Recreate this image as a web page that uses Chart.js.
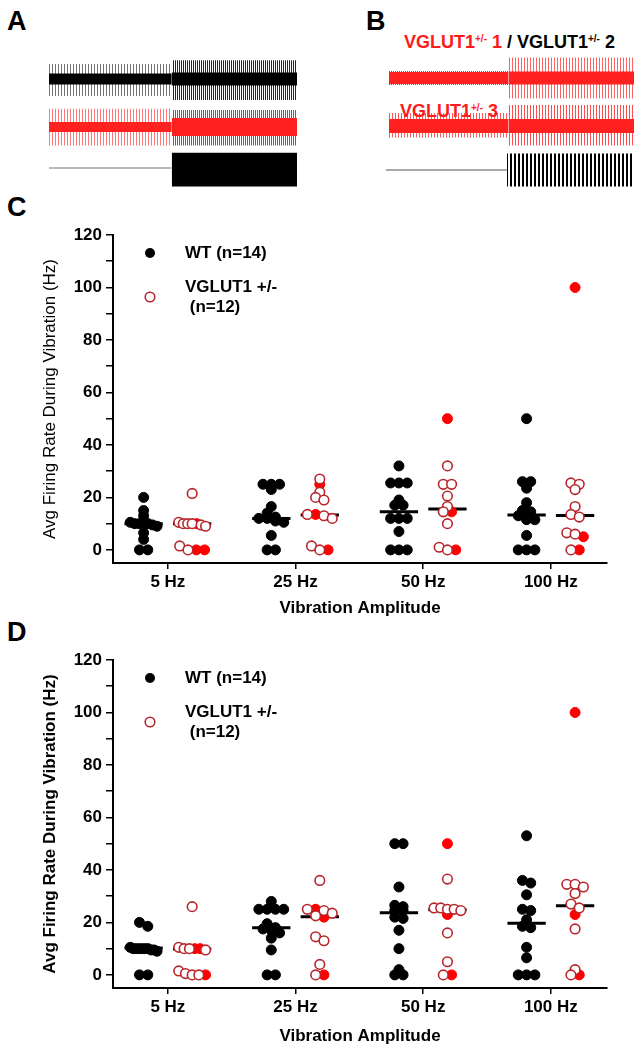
<!DOCTYPE html>
<html lang="en">
<head>
<meta charset="UTF-8">
<title>VGLUT1 firing during vibration</title>
<script src="https://cdn.jsdelivr.net/npm/chart.js"></script>
<style>
  body { margin: 0; width: 640px; height: 1050px; position: relative; overflow: hidden; background: #fff;
         font-family: "Liberation Sans", Arial, sans-serif; }
  canvas { position: absolute; }
  .panel { position: absolute; font-weight: bold; font-size: 27px; line-height: 1; }
  .tag { position: absolute; font-weight: bold; font-size: 18px; line-height: 1; white-space: nowrap; color: #000; }
  .tag sup { font-size: 10px; vertical-align: 6px; line-height: 0; }
  .red { color: #ff1a1a; }
</style>
</head>
<body>
<div class="panel" style="left:7px;top:8px">A</div>
<div class="panel" style="left:366px;top:8px">B</div>
<div class="panel" style="left:7px;top:194px">C</div>
<div class="panel" style="left:7px;top:619px">D</div>

<div class="tag" style="left:404px;top:33px"><span class="red">VGLUT1<sup>+/-</sup> 1</span> / VGLUT1<sup>+/-</sup> 2</div>
<div class="tag red" style="left:400px;top:102px">VGLUT1<sup>+/-</sup> 3</div>

<canvas id="aWt" width="248" height="48" style="left:49px;top:55px"></canvas>
<canvas id="aVg" width="248" height="48" style="left:49px;top:103px"></canvas>
<canvas id="aStim" width="248" height="48" style="left:49px;top:144px"></canvas>
<canvas id="bVg1" width="245" height="48" style="left:389px;top:54px"></canvas>
<canvas id="bVg3" width="245" height="48" style="left:389px;top:102px"></canvas>
<canvas id="bStim" width="248" height="48" style="left:386px;top:146px"></canvas>

<canvas id="chartC" width="640" height="435" style="left:0;top:185px"></canvas>
<canvas id="chartD" width="640" height="440" style="left:0;top:610px"></canvas>

<script>
// ---- example recordings (A, B): envelope of each trace, [before vibration, during vibration]
const traceTime = [0, 2];          // s
const aOnset = 0.99, bOnset = 0.975; // vibration starts (s)
const aWtSpikeUp = [15, 18.7],  aWtSpikeDown = [-17, -21],   aWtCore = [5.5, 6.5];
const aVgSpikeUp = [18.3, 17],  aVgSpikeDown = [-18.6, -18.6], aVgCore = [5, 9];
const aStimUp = [0.6, 15.2],    aStimDown = [-0.6, -18.5];
const bVg1SpikeUp = [7, 20.6],  bVg1SpikeDown = [-7, -20.5], bVg1Core = [6, 6.5];
const bVg3SpikeUp = [13, 21],   bVg3SpikeDown = [-11.5, -19.6], bVg3Core = [7, 7];
const bStimUp = [0.6, 16.5],    bStimDown = [-0.6, -16.4];

// ---- group data (C, D)
const categories = ['5 Hz', '25 Hz', '50 Hz', '100 Hz'];
const yTicks = [0, 10, 20, 30, 40, 50, 60, 70, 80, 90, 100, 110, 120];
const legendLabels = ['WT (n=14)', 'VGLUT1 +/-', ' (n=12)'];

const cWT = [
  [20, 15, 13, 10.5, 10, 10, 10, 10, 9.5, 9, 6.5, 4, 0, 0],
  [25, 25, 25, 23, 16.5, 14, 12.5, 12, 12, 11, 10.5, 5.5, 0, 0],
  [32, 25.5, 25.5, 25.5, 19, 17, 17, 12, 12, 12, 7, 0, 0, 0],
  [50, 26, 26, 23.5, 18, 15, 14.5, 13, 11.5, 11.5, 5.5, 0, 0, 0]
];
const cVgOpen = [
  [21.5, 10.5, 10, 10, 10, 9.5, 9, 1.5, 0],
  [27, 22, 20, 19, 13.5, 13, 12, 1.5, 0],
  [32, 25, 25, 20.5, 16.5, 14.5, 10, 1, 0],
  [25.5, 25, 23, 16.5, 13.5, 12.5, 6.5, 6, 0]
];
const cVgFilled = [[10, 0, 0], [25, 13.5, 0], [50, 14.5, 0], [100, 5, 0]];
const cMedWT = [10, 12, 14.5, 13.3];
const cMedVg = [10, 13.3, 15.6, 13.1];

const dWT = [
  [20, 18.5, 10.5, 10, 10, 10, 10, 10, 10, 9.5, 9.5, 9, 0, 0],
  [28, 25, 25, 25, 25, 19.5, 18, 17.5, 17, 16, 14, 9.5, 0, 0],
  [50, 50, 33.5, 26.5, 26, 24.5, 24.5, 22, 21.5, 17, 10, 2, 0, 0],
  [53, 36, 35, 30.5, 25, 24.5, 21, 18.5, 18, 10.5, 6.5, 0, 0, 0]
];
const dVgOpen = [
  [26, 10.5, 10, 10, 9.5, 1.5, 0.5, 0, 0],
  [36, 25, 24.5, 23.5, 22.5, 14.5, 13, 4, 0],
  [36.5, 25.5, 25.5, 25, 25, 24.5, 16, 5, 0],
  [34.5, 34.5, 33.5, 31, 27, 25.5, 17.5, 2, 0]
];
const dVgFilled = [[10, 10, 0], [25, 22, 0], [50, 23, 0], [100, 23, 0]];
const dMedWT = [10.2, 18, 23.7, 19.7];
const dMedVg = [9.9, 22.2, 24.8, 26.3];

const FONT = '"Liberation Sans", Arial, sans-serif';
const RED_LINE = '#ff2020';
const OPEN_RED = '#b8262c';
const FILL_RED = '#ff0000';

// vertical stripes used to suggest the spikes in the raw recordings
function stripes(color, period, width) {
  const c = document.createElement('canvas');
  c.width = period; c.height = 1;
  const g = c.getContext('2d');
  g.fillStyle = color;
  g.fillRect(0, 0, width, 1);
  return g.createPattern(c, 'repeat');
}

function band(t0, t1, lo, hi, fill) {
  const line = { borderColor: 'transparent', pointRadius: 0, borderWidth: 0 };
  return [
    Object.assign({ data: [{ x: t0, y: lo }, { x: t1, y: lo }], fill: false }, line),
    Object.assign({ data: [{ x: t0, y: hi }, { x: t1, y: hi }], fill: '-1', backgroundColor: fill }, line)
  ];
}

function traceChart(id, onset, up, down, core, fills) {
  const t = [traceTime[0], onset, traceTime[1]];
  let datasets = [];
  for (let s = 0; s < 2; s++) {
    datasets = datasets.concat(band(t[s], t[s + 1], down[s], up[s], fills.spike[s]));
    if (core) datasets = datasets.concat(band(t[s], t[s + 1], -core[s], core[s], fills.core));
  }
  new Chart(document.getElementById(id), {
    type: 'line',
    data: { datasets },
    options: {
      responsive: false, animation: false, events: [],
      layout: { padding: 0 },
      plugins: { legend: { display: false }, tooltip: { enabled: false } },
      scales: {
        x: { type: 'linear', display: false, min: traceTime[0], max: traceTime[1] },
        y: { display: false, min: -24, max: 24 }
      }
    }
  });
}

traceChart('aWt', aOnset, aWtSpikeUp, aWtSpikeDown, aWtCore,
  { spike: [stripes('rgba(0,0,0,0.55)', 3, 1), stripes('rgba(0,0,0,0.85)', 2, 1)], core: '#000' });
traceChart('aVg', aOnset, aVgSpikeUp, aVgSpikeDown, aVgCore,
  { spike: [stripes('rgba(255,32,32,0.6)', 3, 1), stripes(RED_LINE, 2, 1)], core: RED_LINE });
traceChart('aStim', aOnset, aStimUp, aStimDown, null,
  { spike: ['#777', '#000'] });
traceChart('bVg1', bOnset, bVg1SpikeUp, bVg1SpikeDown, bVg1Core,
  { spike: [stripes(RED_LINE, 2, 1), stripes('rgba(255,32,32,0.7)', 3, 1)], core: RED_LINE });
traceChart('bVg3', bOnset, bVg3SpikeUp, bVg3SpikeDown, bVg3Core,
  { spike: [stripes('rgba(255,32,32,0.75)', 3, 1), stripes('rgba(255,32,32,0.8)', 3, 1)], core: RED_LINE });
traceChart('bStim', bOnset, bStimUp, bStimDown, null,
  { spike: ['#555', stripes('#000', 4, 2)] });

// ---- scatter panels
const GROUP_OFFSET = 0.19;  // WT left of the tick, VGLUT1 right of it
const MED_HALF = 0.15;
const ROW_TOL = 1.6;        // values closer than this share a row
const DOT_STEP = 0.065;
const ROW_MAX = 0.21;

// spread points that share a value sideways, each row centred on the group
function swarm(values, center) {
  const order = values.map((v, i) => i).sort((a, b) => values[b] - values[a] || a - b);
  const xs = new Array(values.length);
  let row = [];
  const flush = () => {
    const n = row.length;
    const step = n > 1 ? Math.min(DOT_STEP, ROW_MAX / (n - 1)) : 0;
    row.forEach((k, j) => { xs[k] = center + (j - (n - 1) / 2) * step; });
    row = [];
  };
  order.forEach(k => {
    if (row.length && values[row[0]] - values[k] > ROW_TOL) flush();
    row.push(k);
  });
  flush();
  return xs;
}

const wtStyle = { pointRadius: 5, pointBackgroundColor: '#000', pointBorderColor: '#000', pointBorderWidth: 1 };
const openStyle = { pointRadius: 4.8, pointBackgroundColor: '#fff', pointBorderColor: OPEN_RED, pointBorderWidth: 1.6 };
const filledStyle = { pointRadius: 5, pointBackgroundColor: FILL_RED, pointBorderColor: FILL_RED, pointBorderWidth: 1 };

const legendPlugin = {
  id: 'groupLegend',
  afterDraw(chart) {
    const { ctx, chartArea: a } = chart;
    const mx = a.left + 37, tx = a.left + 72;
    ctx.save();
    ctx.font = 'bold 17px ' + FONT;
    ctx.textBaseline = 'middle';
    ctx.fillStyle = '#000';
    ctx.beginPath(); ctx.arc(mx, a.top + 18, wtStyle.pointRadius, 0, 2 * Math.PI); ctx.fill();
    ctx.fillText(legendLabels[0], tx, a.top + 18);
    ctx.fillText(legendLabels[1], tx, a.top + 52);
    ctx.fillText(legendLabels[2], tx, a.top + 72);
    ctx.beginPath(); ctx.arc(mx, a.top + 62, openStyle.pointRadius, 0, 2 * Math.PI);
    ctx.fillStyle = '#fff'; ctx.fill();
    ctx.lineWidth = openStyle.pointBorderWidth; ctx.strokeStyle = OPEN_RED; ctx.stroke();
    ctx.restore();
  }
};

function groupChart(id, wt, vgOpen, vgFilled, medWT, medVg, boldTitle, xAxisHeight, titlePad) {
  const wtPts = [], openPts = [], fillPts = [], medPts = [];
  categories.forEach((c, i) => {
    const xWT = i + 1 - GROUP_OFFSET, xVg = i + 1 + GROUP_OFFSET;
    swarm(wt[i], xWT).forEach((x, k) => wtPts.push({ x, y: wt[i][k] }));
    const vg = vgOpen[i].concat(vgFilled[i]);
    swarm(vg, xVg).forEach((x, k) => (k < vgOpen[i].length ? openPts : fillPts).push({ x, y: vg[k] }));
    [[xWT, medWT[i]], [xVg, medVg[i]]].forEach(([x, m]) => {
      medPts.push({ x: x - MED_HALF, y: m }, { x: x + MED_HALF, y: m }, { x: x + MED_HALF, y: null });
    });
  });

  const tickFont = { family: FONT, size: 17, weight: 'bold' };
  new Chart(document.getElementById(id), {
    type: 'scatter',
    data: {
      datasets: [
        { label: 'median', data: medPts, showLine: true, borderColor: '#000', borderWidth: 3, pointRadius: 0, order: 10 },
        Object.assign({ label: 'WT', data: wtPts, order: 3 }, wtStyle),
        Object.assign({ label: 'VGLUT1 +/-', data: fillPts, order: 2 }, filledStyle),
        Object.assign({ label: 'VGLUT1 +/- (open)', data: openPts, order: 1 }, openStyle)
      ]
    },
    options: {
      responsive: false, animation: false, events: [],
      layout: { padding: { top: 50, right: 33, left: 0, bottom: 0 } },
      plugins: { legend: { display: false }, tooltip: { enabled: false } },
      scales: {
        x: {
          type: 'linear', min: 0.57, max: 4.44,
          afterBuildTicks: s => { s.ticks = categories.map((c, i) => ({ value: i + 1 })); },
          afterFit: s => { s.height = xAxisHeight; },
          ticks: { callback: (v, i) => categories[i], font: tickFont, color: '#000', padding: 3, maxRotation: 0, autoSkip: false },
          grid: { drawOnChartArea: false, drawTicks: true, tickLength: 6, lineWidth: 1.5, tickColor: '#000' },
          border: { color: '#000', width: 2 },
          title: { display: true, text: 'Vibration Amplitude', font: tickFont, color: '#000', padding: { top: 0, bottom: titlePad } }
        },
        y: {
          min: -5, max: 120,
          afterBuildTicks: s => { s.ticks = yTicks.map(v => ({ value: v })); },
          afterFit: s => { s.width = 113; },
          ticks: { callback: v => (v % 20 === 0 ? String(v) : ''), font: tickFont, color: '#000', padding: 4, autoSkip: false },
          grid: { drawOnChartArea: false, drawTicks: true, tickLength: 7, lineWidth: 1.5, tickColor: '#000' },
          border: { color: '#000', width: 2 },
          title: {
            display: true, text: 'Avg Firing Rate During Vibration (Hz)', color: '#000',
            font: { family: FONT, size: 17, weight: boldTitle ? 'bold' : 'normal' },
            padding: { top: 40, bottom: 0 }
          }
        }
      }
    },
    plugins: [legendPlugin]
  });
}

groupChart('chartC', cWT, cVgOpen, cVgFilled, cMedWT, cMedVg, false, 57, 1);
groupChart('chartD', dWT, dVgOpen, dVgFilled, dMedWT, dMedVg, true, 62, 3);
</script>
</body>
</html>
